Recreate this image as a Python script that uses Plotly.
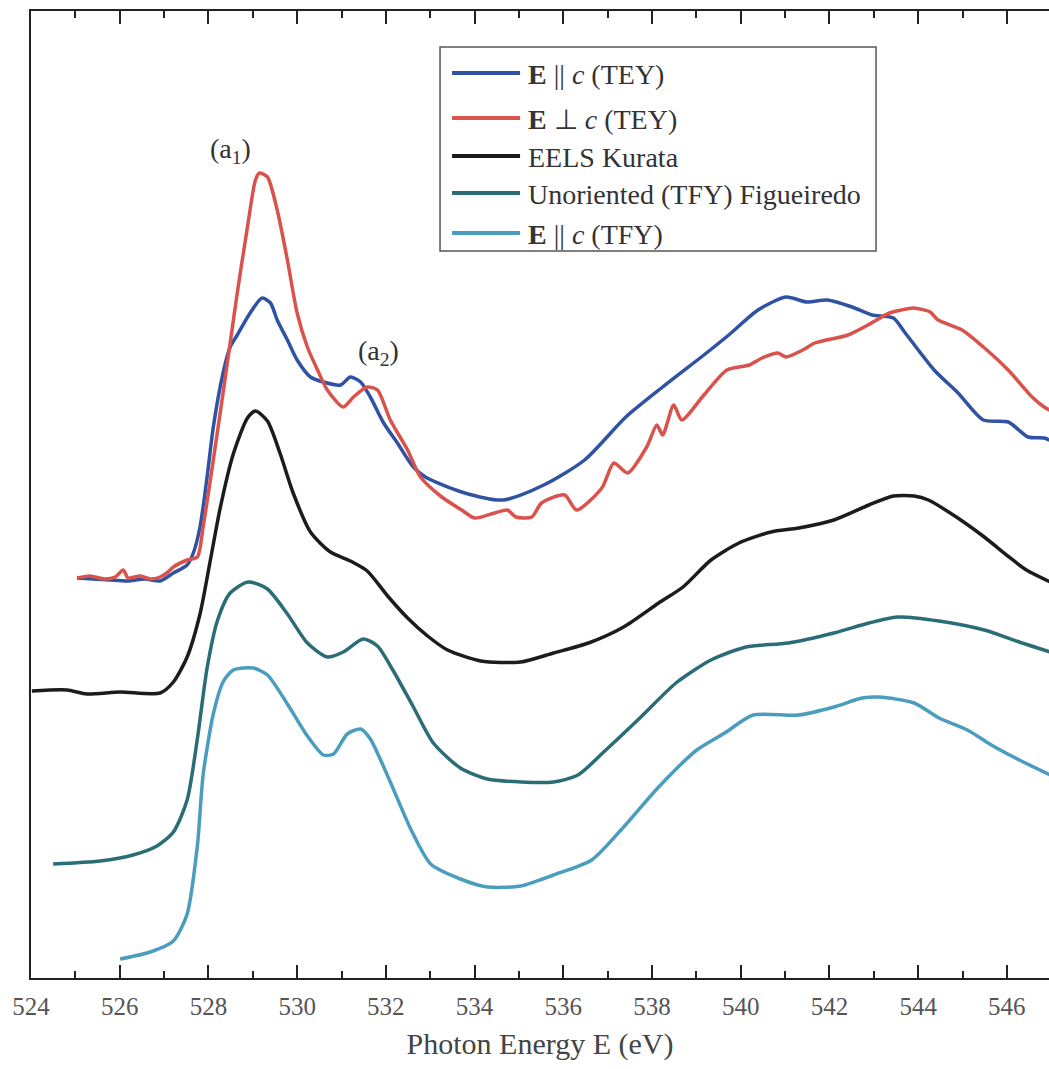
import plotly.graph_objects as go

# ---------------- data ----------------
e_par_tey = [525.04, 525.40, 525.78, 526.17, 526.57, 526.91, 527.21, 527.52, 527.66, 527.81,
             527.97, 528.11, 528.33, 528.49, 528.65, 528.94, 529.21, 529.40, 529.55, 529.78,
             530.00, 530.30, 530.59, 530.98, 531.20, 531.43, 531.65, 531.95, 532.26, 532.62,
             532.89, 533.71, 534.63, 535.56, 536.48, 537.41, 538.24, 539.17, 539.73, 540.39,
             541.02, 541.49, 541.95, 542.51, 542.96, 543.44, 543.71, 544.36, 544.90, 545.47,
             546.03, 546.48, 546.84, 547.05]
i_par_tey = [4.00, 3.99, 3.98, 3.97, 3.99, 3.97, 4.05, 4.13, 4.25, 4.51,
             5.01, 5.51, 6.05, 6.31, 6.43, 6.65, 6.80, 6.75, 6.58, 6.38,
             6.18, 6.01, 5.96, 5.93, 6.01, 5.96, 5.81, 5.55, 5.35, 5.11,
             5.01, 4.86, 4.78, 4.93, 5.18, 5.61, 5.91, 6.23, 6.43, 6.68,
             6.81, 6.76, 6.78, 6.71, 6.63, 6.60, 6.45, 6.08, 5.85, 5.58,
             5.56, 5.41, 5.40, 5.36]

e_perp_tey = [525.04, 525.33, 525.67, 525.90, 526.08, 526.19, 526.46, 526.69, 526.91, 527.09,
              527.21, 527.52, 527.75, 527.88, 528.11, 528.33, 528.49, 528.65, 528.88, 529.06,
              529.15, 529.33, 529.55, 529.78, 530.00, 530.23, 530.46, 530.68, 531.04, 531.27,
              531.58, 531.81, 532.10, 532.49, 532.78, 533.26, 533.71, 534.00, 534.45, 534.74,
              534.93, 535.29, 535.51, 536.03, 536.30, 536.87, 537.14, 537.45, 537.88, 538.11,
              538.24, 538.49, 538.67, 539.17, 539.69, 540.19, 540.48, 540.84, 541.02, 541.40,
              541.67, 542.42, 542.87, 543.35, 543.62, 543.89, 544.27, 544.45, 544.99, 545.47,
              546.03, 546.57, 546.84, 547.05]
i_perp_tey = [4.00, 4.02, 3.99, 4.01, 4.08, 4.00, 4.02, 3.99, 4.01, 4.06,
              4.11, 4.18, 4.21, 4.51, 5.18, 5.85, 6.35, 6.85, 7.51, 7.98,
              8.05, 8.01, 7.68, 7.18, 6.65, 6.31, 6.08, 5.88, 5.71, 5.81,
              5.91, 5.88, 5.58, 5.28, 5.01, 4.81, 4.68, 4.60, 4.65, 4.68,
              4.61, 4.61, 4.75, 4.83, 4.68, 4.90, 5.15, 5.05, 5.31, 5.53,
              5.43, 5.73, 5.58, 5.83, 6.08, 6.13, 6.20, 6.25, 6.21, 6.28,
              6.35, 6.43, 6.53, 6.65, 6.68, 6.70, 6.66, 6.58, 6.48, 6.31,
              6.08, 5.81, 5.71, 5.66]

e_eels = [524.02, 524.81, 525.26, 526.01, 526.91, 527.21, 527.52, 527.81, 528.04, 528.27,
          528.56, 528.88, 529.06, 529.33, 529.62, 529.91, 530.30, 530.75, 531.20, 531.58,
          532.04, 532.49, 532.94, 533.39, 534.14, 535.04, 535.78, 536.57, 537.36, 538.15,
          538.70, 539.33, 539.96, 540.68, 541.31, 542.10, 542.89, 543.44, 543.91, 544.23,
          544.86, 545.49, 546.05, 546.44, 546.98]
i_eels = [2.87, 2.88, 2.84, 2.86, 2.85, 2.96, 3.21, 3.64, 4.17, 4.71,
          5.24, 5.60, 5.67, 5.57, 5.24, 4.85, 4.46, 4.26, 4.17, 4.07,
          3.82, 3.60, 3.42, 3.28, 3.17, 3.16, 3.25, 3.35, 3.51, 3.75,
          3.91, 4.18, 4.35, 4.46, 4.50, 4.58, 4.73, 4.82, 4.82, 4.78,
          4.61, 4.41, 4.21, 4.08, 3.96]

e_unor_tfy = [524.50, 525.56, 526.30, 526.84, 527.21, 527.52, 527.75, 527.97, 528.20, 528.49,
              528.90, 529.33, 529.78, 530.23, 530.68, 531.04, 531.49, 531.81, 532.17, 532.62,
              533.07, 533.68, 534.29, 535.04, 535.78, 536.33, 536.96, 537.75, 538.54, 539.33,
              540.12, 541.07, 542.10, 542.89, 543.53, 544.47, 545.49, 546.28, 546.98]
i_unor_tfy = [1.14, 1.17, 1.23, 1.32, 1.46, 1.78, 2.39, 3.10, 3.57, 3.85,
              3.96, 3.89, 3.64, 3.35, 3.21, 3.26, 3.39, 3.32, 3.07, 2.71,
              2.35, 2.10, 1.99, 1.96, 1.96, 2.03, 2.28, 2.61, 2.95, 3.18,
              3.31, 3.35, 3.45, 3.55, 3.61, 3.57, 3.48, 3.36, 3.26]

e_par_tfy = [526.01, 526.69, 527.21, 527.52, 527.75, 527.88, 528.11, 528.33, 528.56, 529.01,
             529.33, 529.78, 530.23, 530.59, 530.82, 531.13, 531.43, 531.65, 532.10, 532.56,
             533.01, 533.68, 534.29, 535.04, 535.78, 536.64, 537.36, 538.15, 539.01, 539.64,
             540.28, 541.31, 542.10, 542.74, 543.12, 543.91, 544.47, 545.11, 545.65, 546.28,
             546.98]
i_par_tfy = [0.19, 0.26, 0.37, 0.64, 1.32, 2.03, 2.64, 2.96, 3.08, 3.10,
             3.03, 2.74, 2.42, 2.23, 2.24, 2.44, 2.49, 2.39, 1.96, 1.49,
             1.14, 0.99, 0.91, 0.92, 1.03, 1.18, 1.51, 1.91, 2.28, 2.45,
             2.63, 2.63, 2.71, 2.80, 2.81, 2.75, 2.60, 2.48, 2.33, 2.18,
             2.03]

series_names = ["<b>E</b> || <i>c</i> (TEY)", "<b>E</b> \u22a5 <i>c</i> (TEY)", "EELS Kurata",
                "Unoriented (TFY) Figueiredo", "<b>E</b> || <i>c</i> (TFY)"]
series_colors = ["#2f52a3", "#d9534c", "#1c1c1c", "#2b6d76", "#4a9dbf"]
x_major_ticks = [524, 526, 528, 530, 532, 534, 536, 538, 540, 542, 544, 546]
peak_labels = ["(a<sub>1</sub>)", "(a<sub>2</sub>)"]
peak_label_x = [528.50, 531.84]
peak_label_y = [8.28, 6.26]

xs = [e_par_tey, e_perp_tey, e_eels, e_unor_tfy, e_par_tfy]
ys = [i_par_tey, i_perp_tey, i_eels, i_unor_tfy, i_par_tfy]

FONT = "Liberation Serif, Times New Roman, serif"
X_RANGE = [524, 546.95]

fig = go.Figure()
for x, y, name, col in zip(xs, ys, series_names, series_colors):
    fig.add_trace(go.Scatter(x=x, y=y, mode="lines", name=name,
                             line=dict(color=col, width=3.5, shape="spline", smoothing=0.7),
                             showlegend=False))

# peak labels
for t, px, py in zip(peak_labels, peak_label_x, peak_label_y):
    fig.add_annotation(x=px, y=py, xref="x", yref="y", text=t, showarrow=False,
                       font=dict(family=FONT, size=28, color="#333"))

# manual legend (long line samples as in the original)
box = dict(x0=0.4018, x1=0.8301, y0=0.7518, y1=0.9628)
fig.add_shape(type="rect", xref="paper", yref="paper", **box,
              line=dict(color="#555", width=1.5), fillcolor="rgba(255,255,255,0)")
row_y = [0.9359, 0.8893, 0.8501, 0.8118, 0.7704]
for name, col, ry in zip(series_names, series_colors, row_y):
    fig.add_shape(type="line", xref="paper", yref="paper", x0=0.4136, x1=0.4804,
                  y0=ry, y1=ry, line=dict(color=col, width=4))
    fig.add_annotation(x=0.4862, y=ry - 0.002, xref="paper", yref="paper", text=name,
                       showarrow=False, xanchor="left", yanchor="middle",
                       font=dict(family=FONT, size=28, color="#333"))

fig.update_layout(
    width=1049, height=1069,
    margin=dict(l=31, r=0, t=11, b=91),
    paper_bgcolor="white", plot_bgcolor="white",
    font=dict(family=FONT, color="#444"),
    xaxis=dict(range=X_RANGE, tickmode="linear", tick0=x_major_ticks[0], dtick=2,
               ticks="inside", ticklen=13, tickwidth=2, tickcolor="#222",
               minor=dict(dtick=1, ticks="inside", ticklen=7, tickwidth=2, tickcolor="#222",
                          showgrid=False),
               showline=True, linewidth=2, linecolor="#222", mirror="allticks",
               showgrid=False, zeroline=False,
               tickfont=dict(family=FONT, size=25, color="#555"),
               ticklabelstandoff=5,
               title=dict(text="Photon Energy E (eV)", font=dict(family=FONT, size=30, color="#444"),
                          standoff=14)),
    yaxis=dict(range=[0, 9.67], showticklabels=False, ticks="", showline=True,
               linewidth=2, linecolor="#222", showgrid=False, zeroline=False),
)

fig.write_html("out.html")
